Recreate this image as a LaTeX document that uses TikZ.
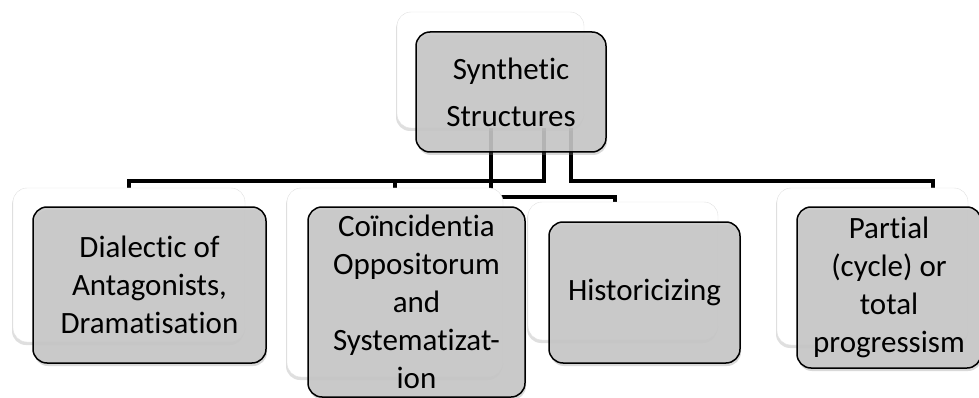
\documentclass[tikz,border=0pt]{standalone}
\usepackage{fontspec}
\setmainfont{Carlito}[Ligatures=NoCommon]
\usetikzlibrary{shadows}
\begin{document}
\begin{tikzpicture}[x=1pt,y=-1pt,
    back/.style={draw=black!12,fill=white,rounded corners=14pt,
      drop shadow={opacity=0.25,shadow xshift=-1pt,shadow yshift=-3pt},
      inner sep=0pt},
    front/.style={draw=black,line width=1.5pt,fill=black!22,fill opacity=0.88,
      text opacity=1,rounded corners=14pt,align=center,inner sep=0pt,
      drop shadow={opacity=0.3,shadow xshift=1pt,shadow yshift=-3pt},
      font=\fontsize{31}{38}\selectfont},
    conn/.style={draw=black,line width=4pt}]
  \useasboundingbox (0,0) rectangle (979,398);
  % connectors first, so the boxes cover their ends
  \node[minimum width=187pt,minimum height=116pt,inner sep=0pt] (synpos) at (490.5,70) {};
  \node[minimum width=232pt,minimum height=154pt,inner sep=0pt] (diapos) at (129,265) {};
  \node[minimum width=216pt,minimum height=189pt,inner sep=0pt] (coipos) at (395,282.5) {};
  \node[minimum width=190pt,minimum height=138pt,inner sep=0pt] (hispos) at (623,271) {};
  \node[minimum width=191pt,minimum height=157pt,inner sep=0pt] (parpos) at (872.5,266.5) {};
  \draw[conn] (synpos.south) -- ++(0,69) -| ([xshift=-8pt]hispos.north);
  \draw[conn] ([xshift=53pt]synpos.south) -- ++(0,53) -| (diapos.north);
  \draw[conn] ([xshift=53pt]synpos.south) -- ++(0,53) -| (coipos.north);
  \draw[conn] ([xshift=80pt]synpos.south) -- ++(0,53) -| ([xshift=60pt]parpos.north);
  % back boxes
  \node[back,minimum width=187pt,minimum height=116pt] (synback) at (synpos) {};
  \node[back,minimum width=232pt,minimum height=154pt] (diaback) at (diapos) {};
  \node[back,minimum width=216pt,minimum height=189pt] (coiback) at (coipos) {};
  \node[back,minimum width=190pt,minimum height=138pt] (hisback) at (hispos) {};
  \node[back,minimum width=191pt,minimum height=157pt] (parback) at (parpos) {};
  % front boxes
  \node[front,minimum width=190pt,minimum height=120pt,
    font=\fontsize{31}{47}\selectfont] (syn) at (511,92) {Synthetic\\Structures};
  \node[front,minimum width=233pt,minimum height=156pt] (dia) at (149.5,285)
    {Dialectic of\\Antagonists,\\Dramatisation};
  \node[front,minimum width=217pt,minimum height=190pt] (coi) at (416.5,302)
    {Coïncidentia\\Oppositorum\\and\\Systematizat-\\ion};
  \node[front,minimum width=191pt,minimum height=141pt] (his) at (644.5,292.5)
    {Historicizing};
  \node[front,minimum width=184pt,minimum height=161pt] (par) at (889,287.5)
    {Partial\\(cycle) or\\total\\progressism};
\end{tikzpicture}
\end{document}
